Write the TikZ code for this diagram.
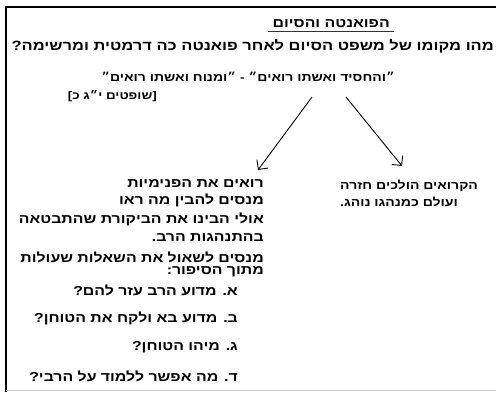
\documentclass[tikz,border=0pt]{standalone}
\usepackage{fontspec}
\usetikzlibrary{arrows.meta,positioning}
\TeXXeTstate=1
\newfontfamily\hebfont[Script=Hebrew,FakeStretch=1.22]{Liberation Sans}

\begin{document}
\begin{tikzpicture}[x=1pt,y=-1pt,
    every node/.style={font=\hebfont\bfseries\fontsize{13}{15}\selectfont,inner sep=0pt},
    rline/.style={anchor=east},
    lline/.style={anchor=west,font=\hebfont\bfseries\fontsize{11.5}{13}\selectfont},
    arr/.style={-{Straight Barb[length=7pt,width=14pt]},line width=0.9pt}]
  \useasboundingbox (0,0) rectangle (496,392);
  \draw[line width=1.6pt] (496,7) -- (6,7) -- (6,392);
  \draw[black!20] (6,390) -- (496,390);
  % header
  \node[rline] (title) at (390,24) {\beginR הפואנטה והסיום\endR};
  \draw[line width=1.1pt,black!80] ([xshift=-4pt,yshift=-3pt]title.south west) -- ([xshift=4pt,yshift=-3pt]title.south east);
  \node[rline,font=\hebfont\bfseries\fontsize{13.5}{15}\selectfont] (question) at (494,46) {\beginR מהו מקומו של משפט הסיום לאחר פואנטה כה דרמטית ומרשימה?\endR};
  \node[rline,font=\hebfont\bfseries\fontsize{11.5}{14}\selectfont] (quote) at (395,77) {\beginR ״והחסיד ואשתו רואים״ - ״ומנוח ואשתו רואים״\endR};
  \node[rline,font=\hebfont\bfseries\fontsize{11}{13}\selectfont] (source) at (157,96) {\beginR [שופטים י״ג כ]\endR};
  % two ways
  \coordinate (forkl) at (312,97);
  \coordinate (forkr) at (346,97);
  \coordinate (endl) at (258,170);
  \coordinate (endr) at (402,166);
  \draw[arr] (forkl) -- (endl);
  \draw[arr] (forkr) -- (endr);
  \node[lline] (r1) at (340,186) {\beginR הקרואים הולכים חזרה\endR};
  \node[lline] (r2) at (340,202) {\beginR ועולם כמנהגו נוהג.\endR};
  \foreach \n/\y/\t in {1/184/רואים את הפנימיות,2/200/מנסים להבין מה ראו,
      3/219/אולי הבינו את הביקורת שהתבטאה,4/238/בהתנהגות הרב.,
      5/257/מנסים לשאול את השאלות שעולות,6/272/מתוך הסיפור:}
    \node[rline] (l\n) at (264,\y) {\beginR \t\endR};
  \foreach \n/\y/\t in {1/290/א. מדוע הרב עזר להם?,2/318/ב. מדוע בא ולקח את הטוחן?,
      3/347/ג. מיהו הטוחן?,4/376/ד. מה אפשר ללמוד על הרבי?}
    \node[rline] (q\n) at (238,\y) {\beginR \t\endR};
\end{tikzpicture}
\end{document}
